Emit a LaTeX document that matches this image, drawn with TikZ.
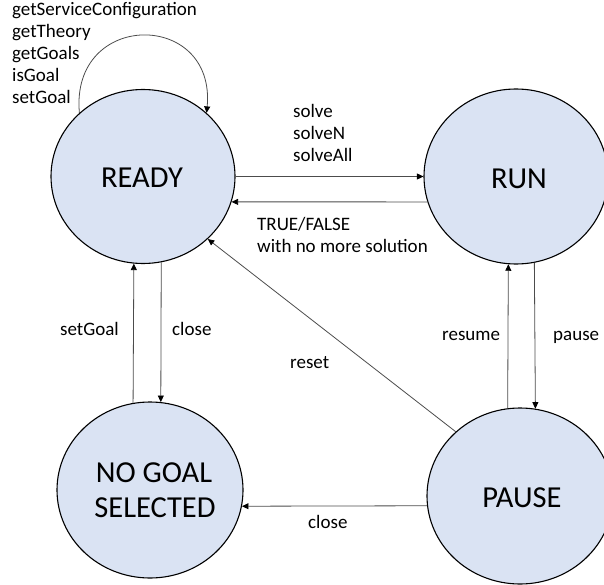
\documentclass[tikz,border=0pt]{standalone}
\usepackage{fontspec}
\setmainfont{Carlito}
\usetikzlibrary{arrows.meta,shapes.geometric}
\definecolor{statefill}{HTML}{DAE3F3}
\begin{document}
\begin{tikzpicture}[x=1pt,y=-1pt,
  state/.style={ellipse,draw=black,line width=1.1pt,fill=statefill,inner sep=0pt},
  lbl/.style={inner sep=0pt,anchor=base west,font=\fontsize{19}{22}\selectfont},
  big/.style={inner sep=0pt,anchor=base,font=\fontsize{30.5}{35}\selectfont},
  conn/.style={draw=black!70,line width=0.8pt,-{Triangle[length=6.5pt,width=6pt,color=black]}}]
\useasboundingbox (0,0) rectangle (604,585);
% states
\node[state,minimum width=184pt,minimum height=174pt] (ready) at (143,176.5) {};
\node[state,minimum width=184pt,minimum height=175pt] (run) at (516,176.5) {};
\node[state,minimum width=186pt,minimum height=176pt] (nogoal) at (150,490) {};
\node[state,minimum width=186pt,minimum height=176pt] (pause) at (520,496) {};
% state texts
\node[big] (treadyt) at (142,188) {READY};
\node[big] (truntxt) at (519,189) {RUN};
\node[big] (tno1) at (154,482) {NO GOAL};
\node[big] (tno2) at (155,517) {SELECTED};
\node[big] (tpause) at (522,507) {PAUSE};
% self loop
\draw[conn] (ready.135) .. controls (70,10) and (216,10) .. (ready.45);
\node[lbl] (s1) at (12,16) {getServiceConfiguration};
\node[lbl] (s2) at (12,38) {getTheory};
\node[lbl] (s3) at (12,60) {getGoals};
\node[lbl] (s4) at (12,82) {isGoal};
\node[lbl] (s5) at (12,104) {setGoal};
% ready <-> run
\draw[conn] (ready.east) -- (run.west);
\draw[conn] (run.196.17) -- (ready.-16.1);
\node[lbl] (v1) at (293,118) {solve};
\node[lbl] (v2) at (293,140) {solveN};
\node[lbl] (v3) at (293,162) {solveAll};
\node[lbl] (t1) at (257,230) {TRUE/FALSE};
\node[lbl] (t2) at (257,252) {with no more solution};
% ready <-> nogoal
\draw[conn] (nogoal.101.1) -- (ready.-96.6);
\draw[conn] (ready.-78.75) -- (nogoal.83.5);
\node[lbl] (g1) at (60,335) {setGoal};
\node[lbl] (c1) at (172,335) {close};
% run <-> pause
\draw[conn] (pause.98.5) -- (run.-95.9);
\draw[conn] (run.-78.15) -- (pause.80.86);
\node[lbl] (r1) at (442,340) {resume};
\node[lbl] (p1) at (553,340) {pause};
% reset
\draw[conn] (pause.135.9) -- (ready.-44);
\node[lbl] (re1) at (290,368) {reset};
% close bottom
\draw[conn] (pause.186.8) -- (nogoal.-10.55);
\node[lbl] (c2) at (308,528) {close};
\end{tikzpicture}
\end{document}
